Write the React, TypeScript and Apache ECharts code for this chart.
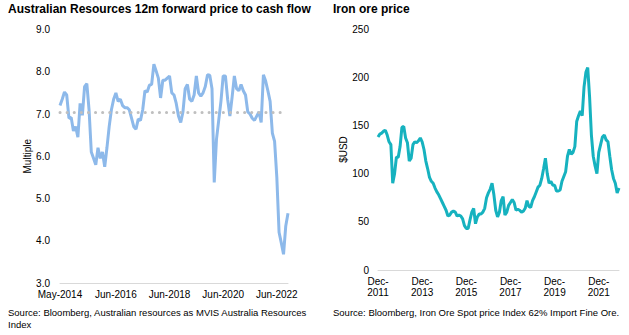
import React, { useEffect, useRef } from "react";
import * as echarts from "echarts";

const MONTHS = ["Jan", "Feb", "Mar", "Apr", "May", "Jun", "Jul", "Aug", "Sep", "Oct", "Nov", "Dec"];
function monthLabels(startYear: number, startMonth: number, count: number): string[] {
  const out: string[] = [];
  for (let k = 0; k < count; k++) {
    const m = startMonth + k;
    out.push(MONTHS[m % 12] + "-" + (startYear + Math.floor(m / 12)));
  }
  return out;
}

// Left chart: Australian Resources 12m forward P/CF (monthly, May-2014 .. Nov-2022)
const ptcfCategories = monthLabels(2014, 4, 103);
const ptcfValues = [
  7.2, 7.35, 7.52, 7.45, 6.9, 6.92, 6.6, 6.7, 6.45, 7.25,
  6.97, 7.65, 7.72, 7.1, 6.1, 5.95, 5.8, 6.2, 5.95, 6.1,
  5.75, 6.2, 6.7, 7.1, 7.35, 7.5, 7.3, 7.35, 7.2, 7.15,
  7.15, 7.1, 6.9, 6.7, 6.64, 6.88, 6.85, 7.1, 7.55, 7.52,
  7.68, 7.7, 8.18, 8.02, 7.85, 7.38, 7.8, 7.8, 7.85, 7.9,
  7.5, 7.45, 7.25, 6.95, 6.8, 7.05, 7.6, 7.7, 7.35, 7.3,
  7.45, 7.9, 7.5, 7.42, 7.5, 7.65, 7.93, 7.92, 7.6, 5.38,
  6.4, 6.85, 7.3, 7.9, 7.9, 7.35, 6.95, 7.4, 7.9, 7.6,
  7.55, 7.7, 7.55, 7.45, 7.05, 7.0, 6.9, 6.85, 6.95, 7.05,
  6.8, 7.93, 7.78, 7.55, 7.3, 6.55, 6.35, 5.5, 4.2, 3.95,
  3.68, 4.35, 4.65,
];
const ptcfAverage = 7.03;
const ptcfAverageEnd = "Sep-2022";
const ptcfTickLabels = ["May-2014", "Jun-2016", "Jun-2018", "Jun-2020", "Jun-2022"];

// Right chart: Iron ore spot price (monthly, Dec-2011 .. Nov-2022)
const ironCategories = monthLabels(2011, 11, 132);
const ironValues = [
  138, 141, 142, 144, 145, 140, 133, 130, 90, 100,
  117, 117, 128, 148, 149, 137, 132, 113, 116, 130,
  133, 132, 134, 137, 133, 125, 113, 105, 96, 92,
  90, 85, 81, 78, 74, 70, 66, 62, 56, 57,
  60, 61, 60, 56, 57, 56, 53, 46, 43, 43,
  52, 60, 64, 48, 55, 58, 58, 60, 64, 75,
  80, 84, 90, 78, 62, 55, 60, 72, 76, 57,
  60, 67, 70, 73, 70, 62, 63, 62, 60, 61,
  64, 72, 66, 65, 72, 76, 81, 86, 88, 95,
  105, 116, 100, 90, 92, 88, 88, 82, 82, 83,
  92, 97, 102, 118, 125, 120, 122, 128, 154, 160,
  165, 160, 190, 205, 210, 180, 140, 118, 108, 100,
  122, 130, 138, 140, 135, 133, 118, 104, 95, 90,
  80, 85,
];
const ironTickLabels = ["Dec-2011", "Dec-2013", "Dec-2015", "Dec-2017", "Dec-2019", "Dec-2021"];

const FONT = "'Liberation Sans', Arial, Helvetica, sans-serif";

export default function App() {
  const ref = useRef<HTMLDivElement>(null);
  useEffect(() => {
    if (!ref.current) return;
    const chart = echarts.init(ref.current, null, { renderer: "svg" });
    const axisLine = { show: true, lineStyle: { color: "#d9d9d9", width: 1 } };
    const labelStyle = { color: "#000", fontSize: 10, fontFamily: FONT };
    chart.setOption({
      animation: false,
      textStyle: { fontFamily: FONT },
      grid: [
        { left: 60, right: 341, top: 29.5, bottom: 52, containLabel: false },
        { left: 378, right: 10, top: 29, bottom: 65, containLabel: false },
      ],
      xAxis: [
        {
          type: "category",
          gridIndex: 0,
          data: ptcfCategories,
          boundaryGap: false,
          axisLine,
          axisTick: { show: false },
          splitLine: { show: false },
          axisLabel: {
            ...labelStyle,
            margin: 6,
            interval: (_i: number, v: string) => ptcfTickLabels.includes(v),
          },
        },
        {
          type: "category",
          gridIndex: 1,
          data: ironCategories,
          boundaryGap: false,
          axisLine,
          axisTick: { show: false },
          splitLine: { show: false },
          axisLabel: {
            ...labelStyle,
            margin: 6,
            lineHeight: 11,
            interval: (_i: number, v: string) => ironTickLabels.includes(v),
            formatter: (v: string) => v.replace("-", "-\n"),
          },
        },
      ],
      yAxis: [
        {
          type: "value",
          gridIndex: 0,
          min: 3,
          max: 9,
          interval: 1,
          axisLine: { show: false },
          axisTick: { show: false },
          splitLine: { show: false },
          axisLabel: { ...labelStyle, margin: 10, formatter: (v: number) => v.toFixed(1) },
          name: "Multiple",
          nameLocation: "middle",
          nameGap: 26,
          nameTextStyle: { ...labelStyle },
        },
        {
          type: "value",
          gridIndex: 1,
          min: 0,
          max: 250,
          interval: 50,
          axisLine: { show: false },
          axisTick: { show: false },
          splitLine: { show: false },
          axisLabel: { ...labelStyle, margin: 9 },
          name: "$USD",
          nameLocation: "middle",
          nameGap: 29,
          nameTextStyle: { ...labelStyle },
        },
      ],
      series: [
        {
          type: "line",
          xAxisIndex: 0,
          yAxisIndex: 0,
          data: ptcfValues,
          showSymbol: false,
          lineStyle: { color: "#8db9ea", width: 3 },
          markLine: {
            silent: true,
            symbol: "none",
            label: { show: false },
            lineStyle: { color: "#bfbfbf", width: 3, type: [0.1, 7], cap: "round" },
            data: [[{ coord: [ptcfCategories[0], ptcfAverage] }, { coord: [ptcfAverageEnd, ptcfAverage] }]],
          },
        },
        {
          type: "line",
          xAxisIndex: 1,
          yAxisIndex: 1,
          data: ironValues,
          showSymbol: false,
          lineStyle: { color: "#16b2bf", width: 3 },
        },
      ],
      graphic: [
        {
          type: "text",
          left: 8,
          top: 3,
          style: { text: "Australian Resources 12m forward price to cash flow", font: `bold 12px ${FONT}`, fill: "#000" },
        },
        {
          type: "text",
          left: 333,
          top: 3,
          style: { text: "Iron ore price", font: `bold 12px ${FONT}`, fill: "#000" },
        },
        {
          type: "text",
          left: 8,
          top: 307,
          style: {
            text: "Source: Bloomberg, Australian resources as MVIS Australia Resources\nIndex",
            font: `9.5px ${FONT}`,
            lineHeight: 11.5,
            fill: "#000",
          },
        },
        {
          type: "text",
          left: 333,
          top: 307,
          style: { text: "Source: Bloomberg, Iron Ore Spot price Index 62% Import Fine Ore.", font: `9.5px ${FONT}`, fill: "#000" },
        },
      ],
    });
    return () => chart.dispose();
  }, []);
  return <div ref={ref} style={{ width: 629, height: 335, position: "absolute", left: 0, top: 0, background: "#fff" }} />;
}
